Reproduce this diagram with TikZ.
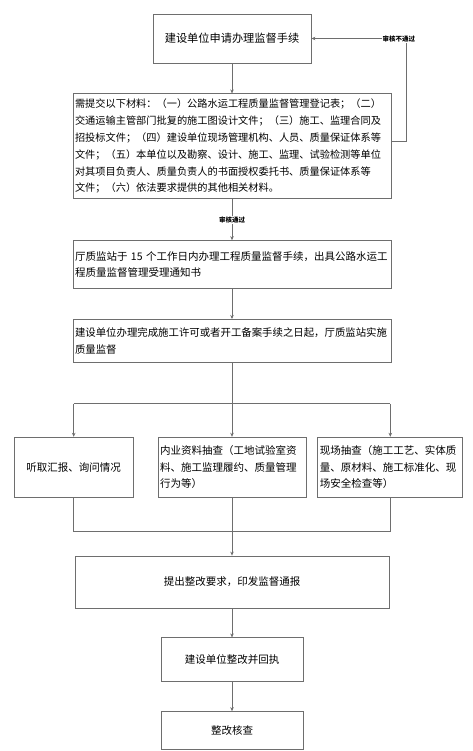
\documentclass[tikz,border=0pt]{standalone}
\usepackage{fontspec}
\setmainfont{Noto Sans CJK SC}
\usetikzlibrary{arrows.meta,positioning}
\definecolor{flowgray}{RGB}{110,110,110}

\begin{document}
\begin{tikzpicture}[
    x=1pt, y=1pt,
    box/.style={draw=flowgray, line width=0.8pt, inner xsep=2pt, inner ysep=0pt, align=center, font=\fontsize{10.5}{16.5}\selectfont},
    textbox/.style={box, align=left, text width=#1},
    tag/.style={fill=white, inner sep=1pt, font=\fontsize{6.5}{7}\selectfont\bfseries},
    >={Stealth[length=4pt,width=3.5pt]}
]
\useasboundingbox (0,0) rectangle (472,-751);
\node[box, minimum width=158pt, minimum height=49pt, font=\fontsize{11.2}{14}\selectfont] (apply) at (232,-38.5) {建设单位申请办理监督手续};
\node[textbox=314pt, minimum height=105pt, below=30pt of apply, font=\fontsize{10.2}{16.8}\selectfont] (materials) {需提交以下材料：（一）公路水运工程质量监督管理登记表；（二）\\交通运输主管部门批复的施工图设计文件；（三）施工、监理合同及\\招投标文件；（四）建设单位现场管理机构、人员、质量保证体系等\\文件；（五）本单位以及勘察、设计、施工、监理、试验检测等单位\\对其项目负责人、质量负责人的书面授权委托书、质量保证体系等\\文件；（六）依法要求提供的其他相关材料。};
\node[textbox=314pt, minimum height=48pt, below=41pt of materials] (accept) {厅质监站于 15 个工作日内办理工程质量监督手续，出具公路水运工\\程质量监督管理受理通知书};
\node[textbox=314pt, minimum height=43pt, below=30pt of accept, font=\fontsize{10.4}{16.5}\selectfont] (supervise) {建设单位办理完成施工许可或者开工备案手续之日起，厅质监站实施\\质量监督};
\node[textbox=144pt, minimum height=60pt, below=74pt of supervise] (records) {内业资料抽查（工地试验室资\\料、施工监理履约、质量管理\\行为等）};
\node[box, minimum width=119pt, minimum height=60pt, left=24pt of records] (report) {听取汇报、询问情况};
\node[textbox=141pt, minimum height=60pt, right=11pt of records] (site) {现场抽查（施工工艺、实体质\\量、原材料、施工标准化、现\\场安全检查等）};
\node[box, minimum width=314pt, minimum height=52pt, below=58pt of records] (notice) {提出整改要求，印发监督通报};
\node[box, minimum width=142pt, minimum height=44pt, below=29pt of notice] (rectify) {建设单位整改并回执};
\node[box, minimum width=142pt, minimum height=38pt, below=29pt of rectify] (recheck) {整改核查};
\coordinate (fork) at ([yshift=-41pt]supervise.south);
\coordinate (join) at ([yshift=24pt]notice.north);
\draw[flowgray, line width=0.8pt, ->] (apply) -- (materials);
\draw[flowgray, line width=0.8pt, ->] (materials) -- node[tag, text=black] {审核通过} (accept);
\draw[flowgray, line width=0.8pt, ->] ([yshift=5pt]materials.east) -- ++(15pt,0) |- node[tag, text=black, pos=0.54] {审核不通过} (apply);
\draw[flowgray, line width=0.8pt, ->] (accept) -- (supervise);
\draw[flowgray, line width=0.8pt] (supervise) -- (fork);
\draw[flowgray, line width=0.8pt] (fork -| report) -- (fork -| site);
\draw[flowgray, line width=0.8pt, ->] (fork -| report) -- (report);
\draw[flowgray, line width=0.8pt, ->] (fork) -- (records);
\draw[flowgray, line width=0.8pt, ->] (fork -| site) -- (site);
\draw[flowgray, line width=0.8pt] (report) -- (report |- join) -- (site |- join) -- (site);
\draw[flowgray, line width=0.8pt] (records) -- (join);
\draw[flowgray, line width=0.8pt, ->] (join) -- (notice);
\draw[flowgray, line width=0.8pt, ->] (notice) -- (rectify);
\draw[flowgray, line width=0.8pt, ->] (rectify) -- (recheck);
\end{tikzpicture}
\end{document}
